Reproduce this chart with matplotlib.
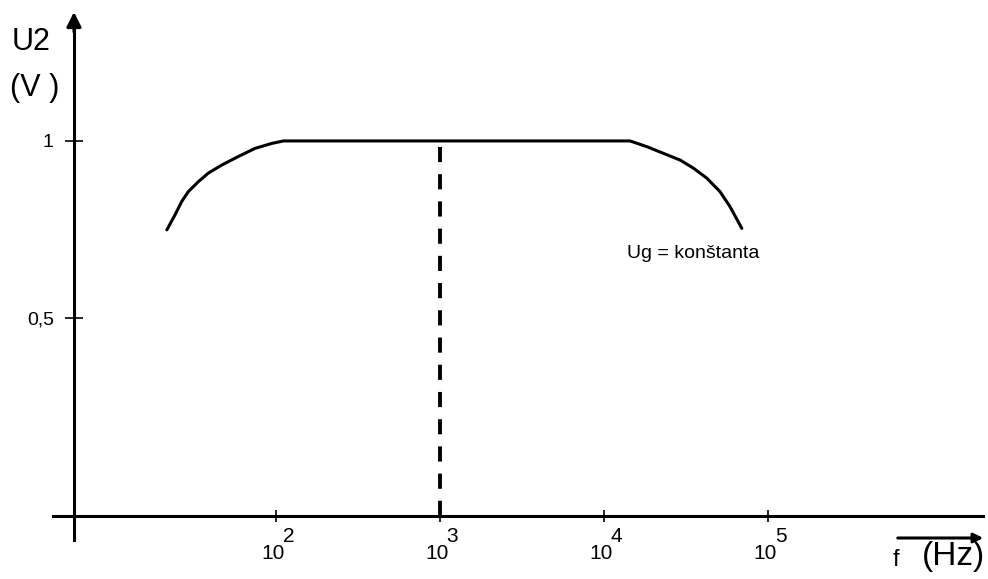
import matplotlib.pyplot as plt

plt.rcParams['font.family'] = ['Liberation Sans', 'DejaVu Sans']

# Frequency response U2(f): low roll-off, flat band, high roll-off
f_low = [21.6, 24.2, 26.6, 29.2, 33.6, 38.6, 46.7, 58.9, 74.5, 94.2, 111]
u_low = [0.749, 0.791, 0.829, 0.857, 0.885, 0.909, 0.932, 0.956, 0.979, 0.993, 1.0]
f_high = [14400, 18200, 23000, 29100, 35100, 42300, 50900, 58700, 69200]
u_high = [1.0, 0.984, 0.965, 0.946, 0.923, 0.895, 0.857, 0.814, 0.753]

f_mid = 1e3
x_ticks = [1e2, 1e3, 1e4, 1e5]
x_exps = ['2', '3', '4', '5']
y_ticks = [1, 0.5]
y_labels = ['1', '0,5']

# axis crossing point (sketch: x axis sits slightly below zero)
x0 = 5.86
y0 = -0.059

fig = plt.figure(figsize=(9.88, 5.79), dpi=100)
ax = fig.add_axes([0, 0, 1, 1])
ax.set_xscale('log')
ax.set_xlim(10 ** 0.317, 10 ** 6.341)
ax.set_ylim(-0.237, 1.398)

# curve
freqs = f_low + f_high
volts = u_low + u_high
ax.plot(freqs, volts, color='black', lw=2.2, solid_joinstyle='round',
        solid_capstyle='round')
ax.vlines(f_mid, y0, 1, colors='black', lw=2.8, linestyles=(0, (3.9, 3.1)))

# axes as crossing lines
for s in ['top', 'right']:
    ax.spines[s].set_visible(False)
ax.spines['left'].set_position(('data', x0))
ax.spines['bottom'].set_position(('data', y0))
ax.spines['left'].set_bounds(-0.127, 1.33)
ax.spines['bottom'].set_bounds(10 ** 0.64, 10 ** 6.311)
ax.spines['left'].set_linewidth(2.2)
ax.spines['bottom'].set_linewidth(2.2)

ax.annotate('', xy=(x0, 1.372), xytext=(x0, 1.30),
            arrowprops=dict(arrowstyle='-|>', color='black', lw=2.2,
                            mutation_scale=22))

ax.set_yticks(y_ticks)
ax.set_yticklabels(y_labels, fontsize=14)
ax.tick_params(axis='y', direction='inout', length=13, width=1.2, pad=8)
ax.set_xticks(x_ticks)
ax.set_xticklabels([])
ax.minorticks_off()
ax.tick_params(axis='x', direction='inout', length=8, width=1.2)

for xt, e in zip(x_ticks, x_exps):
    ax.annotate('10', xy=(xt, y0), xytext=(-2, -27), textcoords='offset points',
                ha='center', va='center', fontsize=15)
    ax.annotate(e, xy=(xt, y0), xytext=(9, -15), textcoords='offset points',
                ha='center', va='center', fontsize=15)

fig.text(12 / 988, 1 - 42 / 579, 'U2', fontsize=22, va='center', ha='left')
fig.text(10 / 988, 1 - 88 / 579, '(V )', fontsize=22, va='center', ha='left')
fig.text(627 / 988, 1 - 253 / 579, 'Ug = konštanta', fontsize=14, va='center', ha='left')

# frequency caption with arrow
fig.text(893 / 988, 1 - 560 / 579, 'f', fontsize=17, va='center', ha='left')
fig.text(985 / 988, 1 - 557 / 579, '(Hz)', fontsize=24, va='center', ha='right')
ax.annotate('', xy=(986 / 988, 1 - 538 / 579), xytext=(895 / 988, 1 - 538 / 579),
            xycoords='figure fraction', textcoords='figure fraction',
            arrowprops=dict(arrowstyle='-|>', color='black', lw=2.2,
                            mutation_scale=14))

fig.savefig('out.png', dpi=100)
